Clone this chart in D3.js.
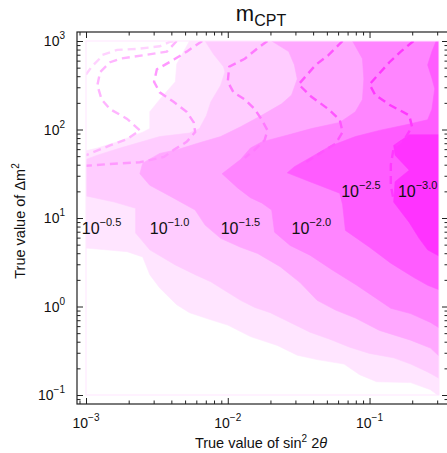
<!DOCTYPE html>
<html>
<head>
<meta charset="utf-8">
<script src="https://cdn.jsdelivr.net/npm/d3@7"></script>
<style>
  body { margin: 0; background: #fff; }
  svg { display: block; font-family: "Liberation Sans", Arial, Helvetica, sans-serif; }
</style>
</head>
<body>
<script>

// contour levels (log10 of the plotted quantity)
var levels = [-0.5, -1.0, -1.5, -2.0, -2.5, -3.0]

// filled regions below each level, as [log10 sin^2 2theta, log10 dm^2] points
var region05 = [[-3.00,1.76],[-3.00,0.66],[-2.71,0.62],[-2.60,0.56],[-2.55,0.36],[-2.48,0.21],[-2.36,0.02],[-2.27,-0.07],[-2.12,-0.15],[-2.00,-0.21],[-1.84,-0.34],[-1.65,-0.44],[-1.51,-0.55],[-1.37,-0.60],[-1.18,-0.65],[-1.07,-0.77],[-0.95,-0.85],[-0.71,-0.86],[-0.57,-0.94],[-0.52,-1.00],[-0.51,-1.00],[-0.51,3.00],[-2.27,3.00],[-2.36,2.74],[-2.37,2.54],[-2.48,2.34],[-2.55,2.20],[-2.55,2.01],[-2.60,1.97],[-2.78,1.86],[-2.92,1.79]]
var region10 = [[-3.00,1.66],[-3.00,1.25],[-2.80,1.18],[-2.65,1.11],[-2.65,0.83],[-2.55,0.64],[-2.37,0.47],[-2.23,0.36],[-2.12,0.28],[-2.03,0.19],[-1.91,0.07],[-1.81,-0.01],[-1.70,-0.07],[-1.56,-0.18],[-1.42,-0.29],[-1.28,-0.37],[-1.14,-0.46],[-1.00,-0.53],[-0.83,-0.58],[-0.71,-0.65],[-0.59,-0.74],[-0.51,-0.81],[-0.51,3.00],[-2.16,3.00],[-2.10,2.85],[-2.03,2.71],[-2.02,2.65],[-2.05,2.50],[-2.12,2.31],[-2.15,2.16],[-2.20,2.01],[-2.27,1.96],[-2.48,1.92],[-2.76,1.79],[-2.92,1.71]]
var region15 = [[-2.62,1.50],[-2.55,1.37],[-2.41,1.25],[-2.23,1.09],[-2.16,0.92],[-2.05,0.77],[-1.91,0.67],[-1.79,0.60],[-1.63,0.45],[-1.49,0.27],[-1.37,0.07],[-1.24,-0.04],[-1.10,-0.13],[-0.93,-0.27],[-0.71,-0.38],[-0.57,-0.47],[-0.51,-0.56],[-0.51,3.00],[-1.69,3.00],[-1.57,2.88],[-1.53,2.73],[-1.51,2.57],[-1.55,2.39],[-1.62,2.29],[-1.76,2.16],[-1.91,2.03],[-2.05,1.92],[-2.20,1.85],[-2.36,1.77],[-2.48,1.73],[-2.60,1.62]]
var region20 = [[-2.04,1.50],[-1.93,1.34],[-1.84,1.23],[-1.76,1.17],[-1.69,1.09],[-1.67,0.84],[-1.56,0.69],[-1.42,0.58],[-1.26,0.41],[-1.09,0.24],[-0.96,0.10],[-0.85,-0.02],[-0.71,-0.08],[-0.57,-0.18],[-0.51,-0.24],[-0.51,3.00],[-1.12,3.00],[-1.05,2.80],[-1.04,2.57],[-1.05,2.34],[-1.10,2.20],[-1.21,2.08],[-1.41,2.01],[-1.57,1.94],[-1.76,1.86],[-1.84,1.79],[-1.91,1.66]]
var region25 = [[-1.58,1.51],[-1.42,1.41],[-1.21,1.28],[-1.19,1.15],[-1.17,0.86],[-1.00,0.67],[-0.85,0.49],[-0.69,0.33],[-0.59,0.24],[-0.51,0.19],[-0.51,3.00],[-0.53,3.00],[-0.56,2.88],[-0.59,2.73],[-0.56,2.58],[-0.54,2.46],[-0.56,2.23],[-0.59,2.11],[-0.75,2.05],[-0.93,1.99],[-1.10,1.92],[-1.28,1.81],[-1.42,1.68],[-1.53,1.58]]
var region30 = [[-0.51,1.94],[-0.72,1.94],[-0.83,1.82],[-0.82,1.71],[-0.72,1.54],[-0.82,1.41],[-0.83,1.18],[-0.72,0.95],[-0.65,0.77],[-0.59,0.64],[-0.51,0.57]]

// dashed contours of the same levels (second quantity)
var dash05 = [[-3.00,2.62],[-2.96,2.71],[-2.91,2.79],[-2.89,2.84],[-2.78,2.90],[-2.64,2.91],[-2.48,2.94],[-2.41,2.99],[-2.37,3.00]]
var dash10 = [[-2.36,3.00],[-2.43,2.88],[-2.59,2.84],[-2.76,2.80],[-2.83,2.76],[-2.90,2.65],[-2.92,2.50],[-2.89,2.34],[-2.83,2.23],[-2.71,2.12],[-2.62,1.99],[-2.71,1.89],[-2.83,1.82],[-2.94,1.75],[-3.00,1.71]]
var dash15 = [[-2.18,3.00],[-2.29,2.88],[-2.38,2.79],[-2.50,2.68],[-2.52,2.54],[-2.48,2.42],[-2.38,2.31],[-2.29,2.20],[-2.24,2.08],[-2.23,1.97],[-2.29,1.86],[-2.38,1.77],[-2.45,1.69],[-2.62,1.63],[-2.83,1.61],[-3.00,1.59]]
var dash20 = [[-1.72,3.00],[-1.78,2.93],[-1.88,2.80],[-1.99,2.71],[-2.00,2.54],[-1.96,2.42],[-1.88,2.34],[-1.81,2.23],[-1.76,2.11],[-1.72,1.99],[-1.74,1.88],[-1.81,1.77],[-1.88,1.68]]
var dash25 = [[-1.19,3.00],[-1.29,2.84],[-1.38,2.73],[-1.50,2.51],[-1.41,2.37],[-1.29,2.23],[-1.21,2.11],[-1.19,1.97],[-1.24,1.84],[-1.36,1.72],[-1.45,1.63]]
var dash30 = [[-0.69,3.00],[-0.78,2.88],[-0.86,2.76],[-1.00,2.51],[-0.96,2.39],[-0.86,2.28],[-0.72,2.16],[-0.70,2.03],[-0.75,1.90],[-0.83,1.79],[-0.85,1.60],[-0.85,1.37],[-0.83,1.20]]

// where the level labels sit (log10 coords of the "10" start, on its baseline)
var labelAt = [[-3.03,0.82],[-2.55,0.82],[-2.05,0.82],[-1.55,0.82],[-1.20,1.24],[-0.80,1.24]]

// ticks
var xMajor = [0.001, 0.01, 0.1]
var xMinor = [0.0009, 0.002, 0.003, 0.004, 0.005, 0.006, 0.007, 0.008, 0.009, 0.02, 0.03, 0.04, 0.05, 0.06, 0.07, 0.08, 0.09, 0.2, 0.3]
var yMajor = [0.1, 1, 10, 100, 1000]
var yMinor = [0.09, 0.2, 0.3, 0.4, 0.5, 0.6, 0.7, 0.8, 0.9, 2, 3, 4, 5, 6, 7, 8, 9, 20, 30, 40, 50, 60, 70, 80, 90, 200, 300, 400, 500, 600, 700, 800, 900]

var fills = ["#ffe5ff", "#ffccff", "#ffa8ff", "#ff85ff", "#ff5cff", "#ff33ff"]
var dashColors = ["#ffd2ff", "#ffb5ff", "#ff99ff", "#ff7aff", "#ff55ff", "#ff38ff"]

var width = 447, height = 453
var frame = {left: 77, right: 448, top: 32, bottom: 404}

var svg = d3.select("body").append("svg")
    .attr("width", width)
    .attr("height", height)

// scales (data area inside the padded frame)
var x = d3.scaleLog().domain([0.001, 0.309]).range([86, 439])
var y = d3.scaleLog().domain([0.1, 1000]).range([395, 41])

function px(d) { return x(Math.pow(10, d[0])) }
function py(d) { return y(Math.pow(10, d[1])) }
var line = d3.line().x(px).y(py)

svg.append("clipPath").attr("id", "plot")
  .append("rect")
    .attr("x", x(0.001)).attr("y", y(1000))
    .attr("width", x(0.309) - x(0.001))
    .attr("height", y(0.1) - y(1000))

var plot = svg.append("g").attr("clip-path", "url(#plot)")

// filled contour bands, lightest first
var regions = [region05, region10, region15, region20, region25, region30]
plot.selectAll("path.band")
    .data(regions)
  .enter().append("path")
    .attr("class", "band")
    .attr("d", function(d) { return line(d) + "Z" })
    .attr("fill", function(d, i) { return fills[i] })
    .attr("stroke", function(d, i) { return fills[i] })
    .attr("stroke-width", 0.6)

// faint edge of the plotted region
svg.append("rect")
    .attr("x", x(0.001)).attr("y", y(1000))
    .attr("width", x(0.309) - x(0.001))
    .attr("height", y(0.1) - y(1000))
    .attr("fill", "none")
    .attr("stroke", fills[0])
    .attr("stroke-width", 1)

// dashed contours
var dashes = [dash05, dash10, dash15, dash20, dash25, dash30]
plot.selectAll("path.dash")
    .data(dashes)
  .enter().append("path")
    .attr("class", "dash")
    .attr("d", line)
    .attr("fill", "none")
    .attr("stroke", function(d, i) { return dashColors[i] })
    .attr("stroke-width", 2.4)
    .attr("stroke-dasharray", "8,5")

var fmt = d3.format(".1f")
var expFmt = d3.format("d")

// level labels
var lbl = svg.append("g").selectAll("text")
    .data(levels)
  .enter().append("text")
    .attr("x", function(d, i) { return px(labelAt[i]) })
    .attr("y", function(d, i) { return py(labelAt[i]) })
    .attr("font-size", 16)
    .attr("fill", "#111")
lbl.append("tspan").text("10")
lbl.append("tspan")
    .attr("dy", -8)
    .attr("font-size", 11)
    .text(function(d) { return fmt(d) })

// frame
svg.append("rect")
    .attr("x", frame.left).attr("y", frame.top)
    .attr("width", frame.right - frame.left)
    .attr("height", frame.bottom - frame.top)
    .attr("fill", "none")
    .attr("stroke", "#222")
    .attr("stroke-width", 1.2)

// frame ticks, pointing inward
function ticks(axis, scale, values, size, tr) {
  var g = svg.append("g")
      .attr("transform", tr)
      .call(axis(scale).tickValues(values).tickSize(-size).tickFormat(""))
  g.select(".domain").remove()
  g.selectAll("line").attr("stroke", "#222")
}
ticks(d3.axisLeft, y, yMajor, 6, "translate(" + frame.left + ",0)")
ticks(d3.axisLeft, y, yMinor, 3.5, "translate(" + frame.left + ",0)")
ticks(d3.axisRight, y, yMajor, 6, "translate(" + frame.right + ",0)")
ticks(d3.axisRight, y, yMinor, 3.5, "translate(" + frame.right + ",0)")
ticks(d3.axisBottom, x, xMajor, 6, "translate(0," + frame.bottom + ")")
ticks(d3.axisBottom, x, xMinor, 3.5, "translate(0," + frame.bottom + ")")
ticks(d3.axisTop, x, xMajor, 6, "translate(0," + frame.top + ")")
ticks(d3.axisTop, x, xMinor, 3.5, "translate(0," + frame.top + ")")

// tick labels as powers of ten
function power(sel) {
  sel.append("tspan").text("10")
  sel.append("tspan")
      .attr("dy", -7)
      .attr("font-size", 10)
      .text(function(d) { return expFmt(Math.round(Math.log10(d))) })
}

svg.append("g").selectAll("text")
    .data(yMajor)
  .enter().append("text")
    .attr("x", 65)
    .attr("y", function(d) { return y(d) + 5 })
    .attr("text-anchor", "end")
    .attr("font-size", 14)
    .attr("fill", "#111")
    .call(power)

svg.append("g").selectAll("text")
    .data(xMajor)
  .enter().append("text")
    .attr("x", function(d) { return x(d) })
    .attr("y", 428)
    .attr("text-anchor", "middle")
    .attr("font-size", 14)
    .attr("fill", "#111")
    .call(power)

// axis titles
var xt = svg.append("text")
    .attr("x", 261)
    .attr("y", 448)
    .attr("text-anchor", "middle")
    .attr("font-size", 14.5)
    .attr("fill", "#111")
xt.append("tspan").text("True value of sin")
xt.append("tspan").attr("dy", -6).attr("font-size", 10).text("2")
xt.append("tspan").attr("dy", 6).text(" 2")
xt.append("tspan").attr("font-style", "italic").text("θ")

var yt = svg.append("text")
    .attr("transform", "translate(25,221) rotate(-90)")
    .attr("text-anchor", "middle")
    .attr("font-size", 14.5)
    .attr("fill", "#111")
yt.append("tspan").text("True value of Δm")
yt.append("tspan").attr("dy", -6).attr("font-size", 10).text("2")

// title
var title = svg.append("text")
    .attr("x", 261)
    .attr("y", 21)
    .attr("text-anchor", "middle")
    .attr("fill", "#111")
title.append("tspan").attr("font-size", 22).text("m")
title.append("tspan").attr("dy", 5).attr("font-size", 16).text("CPT")

</script>
</body>
</html>
